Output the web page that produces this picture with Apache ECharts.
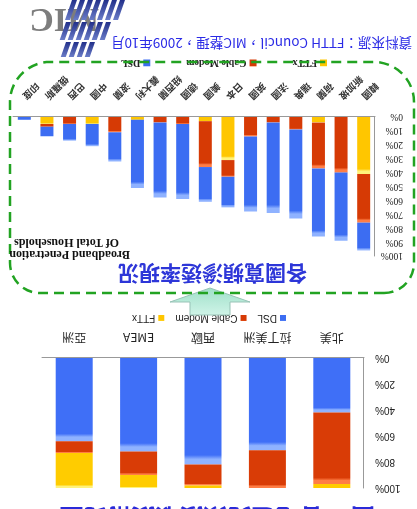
<!DOCTYPE html>
<html><head><meta charset="utf-8">
<script src="https://cdn.jsdelivr.net/npm/echarts@6/dist/echarts.min.js"></script>
<style>
html,body{margin:0;padding:0;background:#fff;overflow:hidden}
#wrap{width:417px;height:509px;transform:rotate(180deg);transform-origin:50% 50%}
#c{width:417px;height:509px}
</style></head>
<body><div id="wrap"><div id="c"></div></div>
<script>
// Region chart (top, upright)
const regionCats = ['北美','拉丁美洲','西歐','EMEA','亞洲'];
const regionDSL = [42,71,82,72,64];
const regionCable = [55,29,16,18,9];
const regionFTTx = [3,0,2,10,27];
const regionTicks = [0,20,40,60,80,100];

// Country chart (bottom, upright)
const countryCats = ['韓國','新加坡','荷蘭','瑞典','法國','英國','日本','美國','德國','紐西蘭','義大利','波蘭','中國','巴西','俄羅斯','印度'];
const countryFTTx = [41,0,4,0,0,0,31,3,0,0,2,0,5,0,5,0];
const countryCable = [35,40,33,9,4,14,12,33,5,4,0,11,0,5,2,0];
const countryDSL = [20,49,49,64,65,54,22,25,54,54,49,21,16,12,7,2];
const countryTicks = [0,10,20,30,40,50,60,70,80,90,100];

const chart = echarts.init(document.getElementById('c'), null, {renderer:'canvas'});
function grad(light, base){
  return new echarts.graphic.LinearGradient(0,0,0,1,[
    {offset:0,color:light},{offset:0.05,color:light},{offset:0.09,color:base},{offset:1,color:base}]);
}
const BLUE = grad('#8fb2ff','#3c6df2');
const RED = grad('#ff7d45','#d63a05');
const YEL = grad('#fff27a','#ffc600');

// logo stripes
const stripes = [];
const rows = [[489,509,292,346],[469,487,306,352],[452,467,322,352]];
rows.forEach(r=>{
  const [y0,y1,x0,x1] = r;
  for(let x=x0; x<x1-4; x+=8){
    const sl = (y1-y0)*0.35;
    stripes.push({type:'polygon',shape:{points:[[x,y1],[x+5,y1],[x+5+sl,y0],[x+sl,y0]]},
      style:{fill:new echarts.graphic.LinearGradient(0,0,0,1,[{offset:0,color:'#6a7cc8'},{offset:1,color:'#22308a'}])},z:10});
  }
});

const option = {
  animation:false,
  grid:[
    {left:42, top:253, width:362, height:139},
    {left:53, top:21, width:322, height:130}
  ],
  legend:[
    {left:85, top:436, itemWidth:7, itemHeight:7, itemGap:36, icon:'rect',
     data:['FTTx','Cable Modem','DSL'],
     textStyle:{fontFamily:'Liberation Serif', fontSize:10, fontWeight:'bold', color:'#222', padding:[0,0,0,-2]}},
    {left:126, top:181, itemWidth:6, itemHeight:6, itemGap:11, icon:'rect',
     data:['DSL','Cable Modem','FTTx'],
     textStyle:{fontFamily:'Liberation Sans', fontSize:10, color:'#222', padding:[0,0,0,-2]}}
  ],
  xAxis:[
    {type:'category', gridIndex:0, data:countryCats,
     axisLine:{lineStyle:{color:'#999'}}, axisTick:{show:false},
     axisLabel:{rotate:45, margin:19, interval:0, fontSize:9.5, fontWeight:'bold', color:'#333', fontFamily:'Noto Sans CJK TC'}},
    {type:'category', gridIndex:1, data:regionCats,
     axisLine:{lineStyle:{color:'#999'}}, axisTick:{show:false},
     axisLabel:{margin:14, interval:0, fontSize:12, color:'#222', fontFamily:'Noto Sans CJK TC'}}
  ],
  yAxis:[
    {type:'value', gridIndex:0, min:countryTicks[0], max:countryTicks[countryTicks.length-1], interval:10,
     axisLine:{show:true, lineStyle:{color:'#999'}}, axisTick:{show:false}, splitLine:{show:false},
     axisLabel:{formatter:'{value}%', align:'left', margin:28, fontSize:9.5, color:'#222', fontFamily:'Liberation Serif'}},
    {type:'value', gridIndex:1, min:regionTicks[0], max:regionTicks[regionTicks.length-1], interval:20,
     axisLine:{show:true, lineStyle:{color:'#999'}}, axisTick:{show:false}, splitLine:{show:false},
     axisLabel:{formatter:'{value}%', margin:11, fontSize:10, color:'#222', fontFamily:'Liberation Sans'}}
  ],
  series:[
    {name:'FTTx', type:'bar', stack:'c', xAxisIndex:0, yAxisIndex:0, barWidth:13, data:countryFTTx, itemStyle:{color:YEL}},
    {name:'Cable Modem', type:'bar', stack:'c', xAxisIndex:0, yAxisIndex:0, barWidth:13, data:countryCable, itemStyle:{color:RED}},
    {name:'DSL', type:'bar', stack:'c', xAxisIndex:0, yAxisIndex:0, barWidth:13, data:countryDSL, itemStyle:{color:BLUE}},
    {name:'DSL', type:'bar', stack:'r', xAxisIndex:1, yAxisIndex:1, barWidth:37, data:regionDSL, itemStyle:{color:grad('#8fb2ff','#3f6ff7')}},
    {name:'Cable Modem', type:'bar', stack:'r', xAxisIndex:1, yAxisIndex:1, barWidth:37, data:regionCable, itemStyle:{color:grad('#ff7d45','#d93c06')}},
    {name:'FTTx', type:'bar', stack:'r', xAxisIndex:1, yAxisIndex:1, barWidth:37, data:regionFTTx, itemStyle:{color:grad('#fff27a','#ffcc00')}}
  ],
  graphic:[
    {type:'text', left:42, top:-21, style:{text:'圖1. 各地區寬頻接取技術比重', font:'bold 24px "Noto Sans CJK TC"', fill:'#2a2ad8'}},
    {type:'polygon', shape:{points:[[187,194],[227,194],[227,207],[247,207],[207,221],[167,207],[187,207]]},
     style:{fill:new echarts.graphic.LinearGradient(0,0,0,1,[{offset:0,color:'#d0f4e8'},{offset:1,color:'#9fe0c9'}]), stroke:'#98c2b6', lineWidth:1}, z:5},
    {type:'rect', shape:{x:3, y:216, width:404, height:231, r:[30,30,40,40]},
     style:{fill:'none', stroke:'#22a322', lineWidth:2.5, lineDash:[10,6]}, z:6},
    {type:'text', left:110, top:225, style:{text:'各國寬頻滲透率現況', font:'bold 21px "Noto Sans CJK TC"', fill:'#2d36d8'}, z:7},
    {type:'text', left:287, top:249, style:{text:'Broadband Penetration', font:'bold 12px "Liberation Serif"', fill:'#111'}, z:7},
    {type:'text', left:298, top:261, style:{text:'Of Total Households', font:'bold 12px "Liberation Serif"', fill:'#111'}, z:7},
    {type:'text', left:5, top:459, style:{text:'資料來源：FTTH Council，MIC整理，2009年10月', font:'13.5px "Noto Sans CJK TC"', fill:'#2b2be6'}, z:7},
    {type:'text', left:318, top:474, style:{text:'MIC', font:'bold 34px "Liberation Serif"', fill:'#7d7d7d'}, z:8}
  ].concat(stripes)
};
chart.setOption(option);
</script>
</body></html>
